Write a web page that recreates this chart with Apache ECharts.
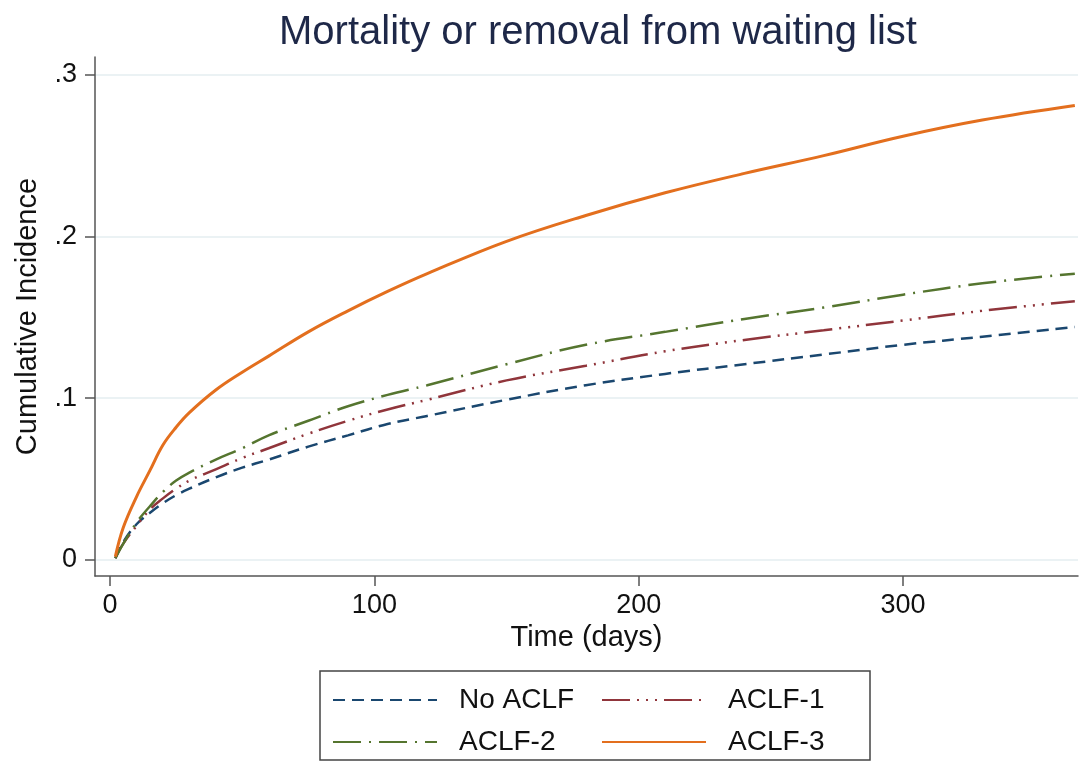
<!DOCTYPE html>
<html>
<head>
<meta charset="utf-8">
<title>Mortality or removal from waiting list</title>
<script src="https://cdn.jsdelivr.net/npm/echarts@6/dist/echarts.min.js"></script>
<style>
  html, body { margin: 0; padding: 0; background: #fff; }
  #chart { width: 1081px; height: 766px; }
</style>
</head>
<body>
<div id="chart"></div>
<script>
// values (cumulative incidence by day)
var days   = [2, 5, 10, 15, 20, 25, 30, 40, 50, 60, 75, 90, 105, 120, 150, 180, 210, 240, 270, 300, 330, 365];
var noAclf = [0.001, 0.011, 0.022, 0.029, 0.035, 0.040, 0.044, 0.051, 0.057, 0.062, 0.070, 0.077, 0.084, 0.089, 0.099, 0.108, 0.115, 0.121, 0.127, 0.133, 0.138, 0.144];
var aclf1  = [0.001, 0.010, 0.021, 0.031, 0.038, 0.044, 0.049, 0.056, 0.063, 0.069, 0.078, 0.086, 0.093, 0.099, 0.111, 0.120, 0.129, 0.136, 0.142, 0.148, 0.154, 0.160];
var aclf2  = [0.001, 0.010, 0.023, 0.033, 0.042, 0.049, 0.054, 0.062, 0.069, 0.077, 0.086, 0.095, 0.102, 0.108, 0.121, 0.133, 0.141, 0.149, 0.156, 0.164, 0.171, 0.177];
var aclf3  = [0.002, 0.020, 0.039, 0.055, 0.071, 0.082, 0.091, 0.105, 0.116, 0.126, 0.141, 0.154, 0.166, 0.177, 0.197, 0.213, 0.227, 0.239, 0.250, 0.262, 0.272, 0.281];

var xTicks = [0, 100, 200, 300];
var yTicks = [0, 0.1, 0.2, 0.3];

var seriesNames = ['No ACLF', 'ACLF-1', 'ACLF-2', 'ACLF-3'];
var seriesVals  = [noAclf, aclf1, aclf2, aclf3];
var colors = ['#1a476f', '#90353b', '#55752f', '#e36f1e'];
var dashes = [[12, 7], [28, 7, 2, 7, 2, 7, 2, 7], [28, 8, 2, 8], 'solid'];
var widths = [2.5, 2.5, 2.5, 3];

var font = 'Liberation Sans, Arial, sans-serif';

function pairs(vals) {
    return days.map(function (d, i) { return [d, vals[i]]; });
}

var series = seriesNames.map(function (name, i) {
    return {
        name: name,
        type: 'line',
        data: pairs(seriesVals[i]),
        showSymbol: false,
        symbol: 'none',
        smooth: 0.4,
        z: 10 + i,
        lineStyle: {color: colors[i], width: widths[i], type: dashes[i]},
        itemStyle: {color: colors[i]}
    };
});

var chart = echarts.init(document.getElementById('chart'));
chart.setOption({
    animation: false,
    backgroundColor: '#ffffff',
    title: {
        text: 'Mortality or removal from waiting list',
        left: 593,
        textAlign: 'center',
        top: 8,
        textStyle: {fontFamily: font, fontSize: 40, fontWeight: 'normal', color: '#1e2848'}
    },
    grid: {left: 95, right: 3, top: 57, bottom: 190, containLabel: false},
    xAxis: {
        type: 'value',
        min: -5.7,
        max: 366.2,
        name: 'Time (days)',
        nameLocation: 'middle',
        nameGap: 46,
        nameTextStyle: {fontFamily: font, fontSize: 29, color: '#111'},
        axisLine: {onZero: false, lineStyle: {color: '#555', width: 1.5}},
        axisTick: {show: true, customValues: xTicks, length: 10, lineStyle: {color: '#555', width: 1.5}},
        axisLabel: {customValues: xTicks, margin: 16, fontFamily: font, fontSize: 27, color: '#111'},
        splitLine: {show: false}
    },
    yAxis: {
        type: 'value',
        min: -0.01,
        max: 0.311,
        name: 'Cumulative Incidence',
        nameLocation: 'middle',
        nameGap: 53,
        nameTextStyle: {fontFamily: font, fontSize: 29, color: '#111'},
        axisLine: {show: true, onZero: false, lineStyle: {color: '#555', width: 1.5}},
        axisTick: {show: true, customValues: yTicks, length: 10, lineStyle: {color: '#555', width: 1.5}},
        axisLabel: {
            customValues: yTicks,
            margin: 18,
            fontFamily: font,
            fontSize: 27,
            color: '#111',
            formatter: function (v) { return v === 0 ? '0' : String(v).replace('0.', '.'); }
        },
        splitLine: {show: true, lineStyle: {color: '#e4eef0', width: 1.5}}
    },
    legend: {
        data: seriesNames,
        left: 320,
        top: 671,
        width: 548,
        orient: 'horizontal',
        padding: [15, 14, 4, 12],
        itemGap: 14,
        itemWidth: 104,
        itemHeight: 20,
        itemStyle: {opacity: 0},
        borderColor: '#444',
        borderWidth: 1.5,
        borderRadius: 0,
        formatter: '{a|{name}}',
        textStyle: {
            fontFamily: font,
            fontSize: 28,
            color: '#111',
            rich: {a: {fontFamily: font, fontSize: 28, color: '#111', width: 128, lineHeight: 28, padding: [0, 0, 0, 17]}}
        }
    },
    series: series
});
</script>
</body>
</html>
